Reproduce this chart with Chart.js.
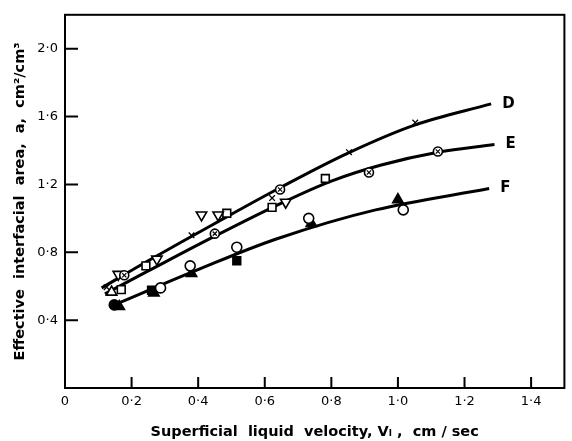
<!DOCTYPE html>
<html>
<head>
<meta charset="utf-8">
<script src="https://cdn.jsdelivr.net/npm/chart.js@4.4.1/dist/chart.umd.min.js"></script>
<style>
  html, body { margin: 0; padding: 0; background: #fff; }
  #wrap { width: 572px; height: 441px; }
</style>
</head>
<body>
<div id="wrap"><canvas id="chart"></canvas></div>
<script>
// axis ticks
const xTicks = [0, 0.2, 0.4, 0.6, 0.8, 1.0, 1.2, 1.4];
const yTicks = [0.4, 0.8, 1.2, 1.6, 2.0];

// fitted curves
const curveD_x = [0.11, 0.25, 0.45, 0.65, 0.85, 1.05, 1.28];
const curveD_y = [0.59, 0.75, 0.97, 1.185, 1.385, 1.55, 1.675];
const curveE_x = [0.12, 0.25, 0.45, 0.65, 0.8, 0.95, 1.12, 1.29];
const curveE_y = [0.555, 0.69, 0.895, 1.09, 1.22, 1.315, 1.39, 1.435];
const curveF_x = [0.16, 0.39, 0.637, 0.933, 1.274];
const curveF_y = [0.50, 0.69, 0.88, 1.05, 1.176];
const curveLabels = ['D', 'E', 'F'];

// experimental points
const crossX = [0.125, 0.38, 0.622, 0.853, 1.052];
const crossY = [0.594, 0.90, 1.12, 1.39, 1.565];
const circCrossX = [0.178, 0.45, 0.646, 0.913, 1.12];
const circCrossY = [0.665, 0.91, 1.17, 1.27, 1.394];
const triDownX = [0.16, 0.276, 0.41, 0.46, 0.663];
const triDownY = [0.67, 0.76, 1.02, 1.02, 1.095];
const squareX = [0.169, 0.243, 0.486, 0.622, 0.782];
const squareY = [0.58, 0.72, 1.03, 1.065, 1.235];
const triUpX = [0.14];
const triUpY = [0.565];
const circleX = [0.287, 0.376, 0.516, 0.732, 1.016];
const circleY = [0.59, 0.72, 0.83, 1.0, 1.05];
const triUpFillX = [0.163, 0.267, 0.38, 0.74, 1.0];
const triUpFillY = [0.48, 0.56, 0.675, 0.97, 1.11];
const squareFillX = [0.26, 0.516];
const squareFillY = [0.576, 0.75];
const circleFillX = [0.148];
const circleFillY = [0.49];

const pts = (xs, ys) => xs.map((x, i) => ({ x: x, y: ys[i] }));
const fmt = v => v === 0 ? '0' : v.toFixed(1).replace('.', '\u00b7');

function curve(xs, ys) {
    return {
        type: 'line',
        data: pts(xs, ys),
        borderColor: '#000',
        borderWidth: 3,
        pointRadius: 0,
        tension: 0.35,
        fill: false,
        order: 10
    };
}

function marker(xs, ys, style, opts) {
    return Object.assign({
        type: 'scatter',
        data: pts(xs, ys),
        pointStyle: style,
        pointRadius: 5,
        borderColor: '#000',
        backgroundColor: '#fff',
        pointBorderWidth: 1.6,
        order: 0
    }, opts || {});
}

const tickFont = { family: 'DejaVu Sans', size: 13 };
const titleFont = { family: 'DejaVu Sans', size: 14.5, weight: 'bold' };

// box round the plot, inward ticks and curve letters
const frame = {
    id: 'frame',
    afterDraw(chart) {
        const { ctx, chartArea: a, scales } = chart;
        ctx.save();
        ctx.strokeStyle = '#000';
        ctx.lineWidth = 2;
        ctx.strokeRect(a.left, a.top, a.right - a.left, a.bottom - a.top);
        ctx.beginPath();
        xTicks.forEach(v => {
            if (v === 0) return;
            const px = scales.x.getPixelForValue(v);
            ctx.moveTo(px, a.bottom);
            ctx.lineTo(px, a.bottom - 11);
        });
        yTicks.forEach(v => {
            const py = scales.y.getPixelForValue(v);
            ctx.moveTo(a.left, py);
            ctx.lineTo(a.left + 13, py);
        });
        ctx.stroke();

        ctx.fillStyle = '#000';
        ctx.font = 'bold 15px "DejaVu Sans"';
        ctx.textBaseline = 'middle';
        [[curveD_x, curveD_y], [curveE_x, curveE_y], [curveF_x, curveF_y]].forEach((c, i) => {
            const n = c[0].length - 1;
            const px = scales.x.getPixelForValue(c[0][n]);
            const py = scales.y.getPixelForValue(c[1][n]);
            ctx.fillText(curveLabels[i], px + 11, py);
        });
        ctx.restore();
    }
};

new Chart(document.getElementById('chart'), {
    data: {
        datasets: [
            curve(curveD_x, curveD_y),
            curve(curveE_x, curveE_y),
            curve(curveF_x, curveF_y),
            marker(crossX, crossY, 'crossRot', { pointRadius: 4, pointBorderWidth: 1.3 }),
            marker(circCrossX, circCrossY, 'crossRot', { pointRadius: 3, pointBorderWidth: 1.2, order: -1 }),
            marker(circCrossX, circCrossY, 'circle', { pointRadius: 4.5 }),
            marker(triDownX, triDownY, 'triangle', { pointRotation: 180, pointRadius: 6 }),
            marker(squareX, squareY, 'rect', { pointRadius: 5.5 }),
            marker(triUpX, triUpY, 'triangle', { pointRadius: 6 }),
            marker(circleX, circleY, 'circle', { pointRadius: 5 }),
            marker(triUpFillX, triUpFillY, 'triangle', { pointRadius: 6, backgroundColor: '#000' }),
            marker(squareFillX, squareFillY, 'rect', { pointRadius: 5.5, backgroundColor: '#000' }),
            marker(circleFillX, circleFillY, 'circle', { pointRadius: 5, backgroundColor: '#000' })
        ]
    },
    options: {
        responsive: true,
        maintainAspectRatio: false,
        animation: false,
        layout: { padding: { top: 10, right: 2, left: 0, bottom: 0 } },
        plugins: { legend: { display: false }, tooltip: { enabled: false } },
        scales: {
            x: {
                type: 'linear',
                min: 0,
                max: 1.5,
                afterFit: s => { s.height = 53; },
                afterBuildTicks: s => { s.ticks = xTicks.map(v => ({ value: v })); },
                grid: { display: false, drawTicks: false },
                border: { display: false },
                ticks: { color: '#000', font: tickFont, padding: 6, maxRotation: 0, callback: fmt },
                title: {
                    display: true,
                    text: 'Superficial  liquid  velocity, V\u2097 ,  cm / sec',
                    color: '#000',
                    font: titleFont,
                    padding: { top: 7, bottom: 0 }
                }
            },
            y: {
                type: 'linear',
                min: 0,
                max: 2.2,
                afterFit: s => { s.width = 65; },
                afterBuildTicks: s => { s.ticks = yTicks.map(v => ({ value: v })); },
                grid: { display: false, drawTicks: false },
                border: { display: false },
                ticks: { color: '#000', font: tickFont, padding: 7, callback: fmt },
                title: {
                    display: true,
                    text: 'Effective  interfacial  area,  a,  cm\u00b2/cm\u00b3',
                    color: '#000',
                    font: titleFont,
                    padding: { top: 12, bottom: 0 }
                }
            }
        }
    },
    plugins: [frame]
});
</script>
</body>
</html>
